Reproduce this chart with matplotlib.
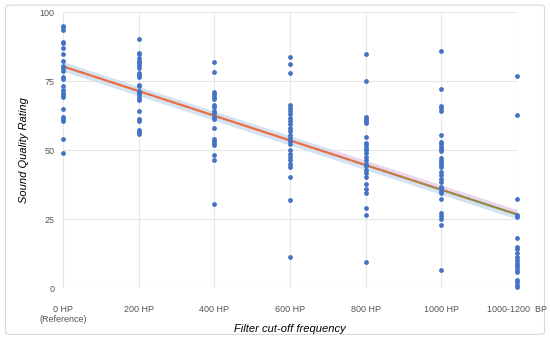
import matplotlib.pyplot as plt
import numpy as np
from matplotlib.patches import FancyBboxPatch
from matplotlib.collections import LineCollection

plt.rcParams['font.family'] = ['Liberation Sans', 'DejaVu Sans']

categories = ['0 HP\n(Reference)', '200 HP', '400 HP', '600 HP', '800 HP', '1000 HP', '1000-1200  BP']

r0 = [95.0, 94.4, 93.5, 89.1, 88.6, 87.1, 84.8, 82.3, 80.4, 79.6, 78.6, 76.3, 75.6, 73.2,
      71.7, 70.8, 70.0, 69.1, 64.7, 62.1, 61.3, 60.4, 54.0, 49.0]
r200 = [90.3, 85.3, 84.7, 83.3, 82.4, 81.5, 80.7, 79.7, 78.0, 77.3, 76.3, 73.7, 73.1, 71.4,
        70.8, 70.0, 68.7, 68.1, 64.3, 61.3, 60.6, 57.4, 56.6, 55.8]
r400 = [81.9, 78.2, 70.9, 70.2, 69.3, 68.4, 66.2, 65.5, 64.3, 63.3, 62.0, 61.1, 58.1, 54.1,
        53.3, 52.4, 51.9, 48.2, 46.4, 30.3]
r600 = [83.6, 81.0, 78.0, 66.3, 65.3, 64.1, 62.9, 61.7, 60.5, 59.3, 58.1, 56.9, 55.4, 54.5,
        53.3, 52.1, 49.9, 48.7, 47.5, 46.3, 45.0, 43.9, 40.3, 31.9, 11.1]
r800 = [84.9, 75.1, 61.8, 61.2, 60.5, 59.7, 54.8, 52.6, 51.7, 50.8, 50.0, 48.8, 47.6, 46.4,
        44.9, 44.2, 42.8, 41.8, 40.1, 37.7, 36.0, 34.3, 28.9, 26.4, 9.4]
r1000 = [86.0, 72.2, 65.8, 65.1, 64.3, 55.5, 53.0, 52.2, 51.2, 50.4, 49.7, 47.0, 46.1, 45.4,
         44.6, 43.7, 42.1, 40.9, 39.7, 38.5, 36.7, 36.1, 35.3, 34.3, 32.1, 27.1, 26.1, 25.0,
         22.8, 6.5]
rbp = [76.9, 62.7, 32.1, 26.4, 25.8, 18.2, 15.0, 14.0, 12.6, 11.3, 10.1, 9.2, 8.3, 7.5,
       6.5, 5.7, 2.9, 2.1, 1.1, 0.5]
ratings = [r0, r200, r400, r600, r800, r1000, rbp]

trend_start = 80.3
trend_end = 26.7

fig = plt.figure(figsize=(5.5, 3.43), dpi=100)
frame = FancyBboxPatch((0.01, 0.025), 0.98, 0.96, boxstyle='round,pad=0,rounding_size=0.008',
                       transform=fig.transFigure, facecolor='white', edgecolor='#DADADA',
                       linewidth=0.8, zorder=-5)
fig.patches.append(frame)

ax = fig.add_axes([0.1145, 0.160, 0.8255, 0.805])
ax.set_facecolor('none')
ax.set_zorder(2)

for i, vals in enumerate(ratings):
    ax.scatter([i] * len(vals), vals, s=12, color='#4472C4', zorder=5, linewidths=0,
               clip_on=False)

# trend line with band
xs = np.linspace(0, 6, 61)
ys = trend_start + (trend_end - trend_start) * xs / 6
ax.fill_between(xs, ys - 1.7, ys + 1.7, color='#C9DCEE', alpha=0.8, zorder=2, linewidth=0)
ax.fill_between(xs[35:], ys[35:] + 0.4, ys[35:] + 1.7, color='#F2D2EC', alpha=0.7, zorder=2,
                linewidth=0)
pts = np.column_stack([xs, ys]).reshape(-1, 1, 2)
segs = np.concatenate([pts[:-1], pts[1:]], axis=1)
c1 = np.array([0.93, 0.42, 0.25])
c2 = np.array([0.55, 0.54, 0.25])
t = np.clip((xs[:-1] - 3.5) / 2.0, 0, 1)[:, None]
cols = c1 * (1 - t) + c2 * t
ax.add_collection(LineCollection(segs, colors=cols, linewidths=1.6, zorder=4))

ax.set_xlim(0, 6)
ax.set_ylim(0, 100)
ax.set_yticks([0, 25, 50, 75, 100])
ax.set_xticks(range(7))
ax.set_xticklabels(categories)
ax.tick_params(length=0, labelsize=6.5, labelcolor='#555555')
ax.tick_params(axis='x', pad=12)
ax.tick_params(axis='y', pad=6)
for s in ax.spines.values():
    s.set_visible(False)
ax.grid(True, color='#E6E6E6', linewidth=0.8)
ax.set_axisbelow(True)

ax.set_xlabel('Filter cut-off frequency', style='italic', fontsize=8, labelpad=0)
ax.set_ylabel('Sound Quality Rating', style='italic', fontsize=8, labelpad=8)

fig.savefig('out.png', dpi=100)
